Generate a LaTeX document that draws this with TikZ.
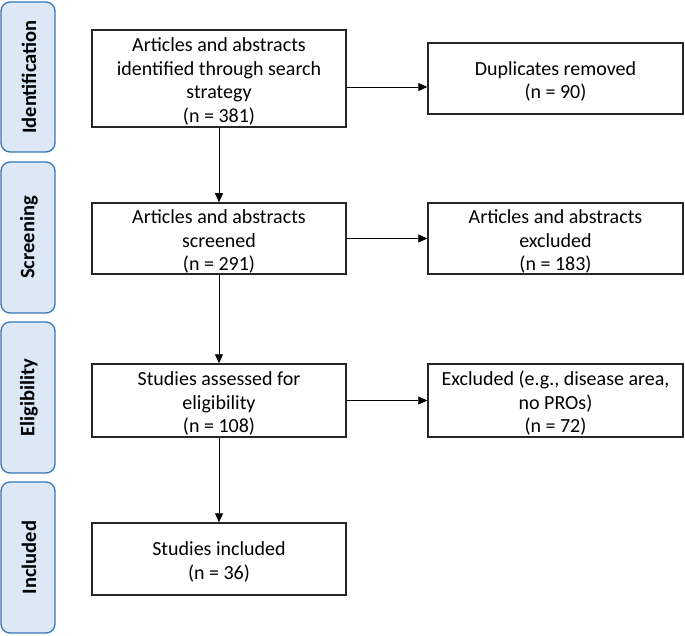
\documentclass[tikz,border=0pt]{standalone}
\usepackage{fontspec}
\setmainfont{Carlito}
\usetikzlibrary{arrows.meta}
\definecolor{sidefill}{HTML}{DCE8F6}
\definecolor{sidedraw}{HTML}{3A75B4}
\definecolor{boxdraw}{HTML}{262626}
\begin{document}
\begin{tikzpicture}[x=1pt,y=-1pt,
  mainbox/.style={draw=boxdraw,line width=1.5pt,fill=white,inner sep=0pt},
  boxtext/.style={align=center,inner sep=0pt,font=\fontsize{20}{23.5}\selectfont},
  sidebox/.style={draw=sidedraw,fill=sidefill,line width=1.3pt,rounded corners=9pt},
  sidelabel/.style={rotate=90,font=\fontsize{20.5}{23}\selectfont\bfseries},
  flow/.style={line width=0.9pt,-{Triangle[length=9pt,width=8pt]}}]
\useasboundingbox (0,0) rectangle (685,636);
% side labels
\foreach \name/\t/\b/\lab in {sidI/2/152/Identification, sidS/162/313/Screening, sidE/322/473/Eligibility, sidN/482/633/Included}{
  \draw[sidebox] (1,\t) rectangle (55,\b);
  \node[sidelabel] (\name) at (29,{(\t+\b)/2}) {\lab};
}
% main boxes
\node[mainbox,minimum width=254pt,minimum height=97pt] (id) at (219,78.5) {};
\node[boxtext] (idt) at ([yshift=-3pt]id.center)
  {Articles and abstracts\\identified through search\\strategy\\(n = 381)};
\node[mainbox,minimum width=255pt,minimum height=71pt] (dup) at (555.5,78.5) {};
\node[boxtext] (dupt) at ([yshift=-3pt]dup.center) {Duplicates removed\\(n = 90)};
\node[mainbox,minimum width=254pt,minimum height=71pt] (scr) at (219,238.5) {};
\node[boxtext] (scrt) at ([yshift=-3pt]scr.center) {Articles and abstracts\\screened\\(n = 291)};
\node[mainbox,minimum width=255pt,minimum height=71pt] (scrx) at (555.5,238.5) {};
\node[boxtext] (scrxt) at ([yshift=-3pt]scrx.center) {Articles and abstracts\\excluded\\(n = 183)};
\node[mainbox,minimum width=254pt,minimum height=73pt] (eli) at (219,400.5) {};
\node[boxtext] (elit) at ([yshift=-3pt]eli.center) {Studies assessed for\\eligibility\\(n = 108)};
\node[mainbox,minimum width=255pt,minimum height=73pt] (elix) at (555.5,400.5) {};
\node[boxtext] (elixt) at ([yshift=-3pt]elix.center) {Excluded (e.g., disease area,\\no PROs)\\(n = 72)};
\node[mainbox,minimum width=254pt,minimum height=72pt] (inc) at (219,559) {};
\node[boxtext] (inct) at ([yshift=-3pt]inc.center) {Studies included\\(n = 36)};
% connectors
\draw[flow] (id.east |- 0,87) -- (dup.west |- 0,87);
\draw[flow] (scr.east) -- (scrx.west);
\draw[flow] (eli.east) -- (elix.west);
\draw[flow] (id.south) -- (scr.north);
\draw[flow] (scr.south) -- (eli.north);
\draw[flow] (eli.south) -- (inc.north);
\end{tikzpicture}
\end{document}
